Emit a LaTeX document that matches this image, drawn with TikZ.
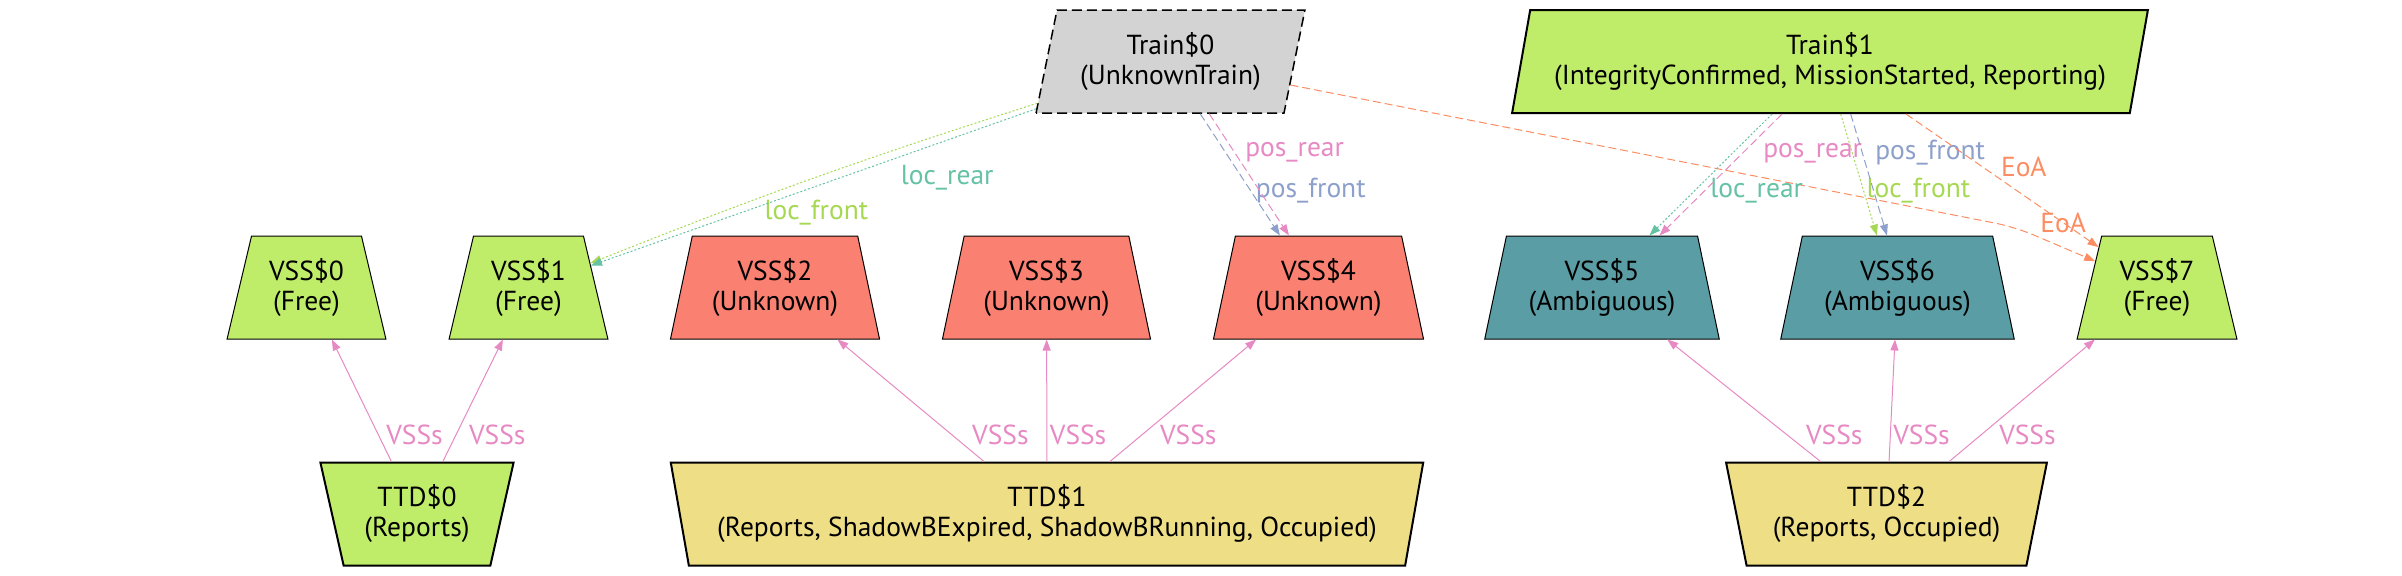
\documentclass[tikz,border=0pt]{standalone}
\usepackage{fontspec}
\setmainfont{PT Sans}
\usetikzlibrary{shapes.geometric,arrows.meta}
\definecolor{freegreen}{HTML}{BFED6A}
\definecolor{unknownred}{HTML}{FA8072}
\definecolor{ambigteal}{HTML}{5A9DA5}
\definecolor{occupiedgold}{HTML}{EEDE86}
\definecolor{traingray}{HTML}{D3D3D3}
\definecolor{setteal}{HTML}{66C2A5}
\definecolor{setorange}{HTML}{FC8D62}
\definecolor{setblue}{HTML}{8DA0CB}
\definecolor{setpink}{HTML}{E78AC3}
\definecolor{setgreen}{HTML}{A6D854}

\begin{document}
\begin{tikzpicture}[x=0.4pt, y=-0.4pt, font=\fontsize{11}{12}\selectfont,
    box/.style={draw, align=center, inner sep=0pt, minimum height=41.2pt,
      trapezium, trapezium stretches=true},
    vss/.style={box, line width=0.4pt, trapezium left angle=74, trapezium right angle=74},
    ttd/.style={box, line width=0.8pt, trapezium left angle=106, trapezium right angle=106},
    train/.style={box, line width=0.8pt, trapezium left angle=74, trapezium right angle=106},
    conn/.style={line width=0.4pt, -{Triangle[length=4.4pt,width=3.2pt]}},
    dashedlink/.style={conn, dash pattern=on 3.2pt off 1.6pt},
    dottedlink/.style={conn, dash pattern=on 0.8pt off 0.8pt},
    lbl/.style={inner sep=2pt}]
  \useasboundingbox (0,0) rectangle (2402,575);

  % trains
  \node[train, fill=traingray, line width=0.6pt, dash pattern=on 4pt off 2pt,
    minimum width=108.4pt] (train0) at (1170.5,61.5) {Train\$0\\(UnknownTrain)};
  \node[train, fill=freegreen, minimum width=255.2pt] (train1) at (1830,61.5)
    {Train\$1\\(IntegrityConfirmed, MissionStarted, Reporting)};

  % VSS row
  \node[vss, fill=freegreen, minimum width=63.6pt] (vss0) at (306.5,287.5) {VSS\$0\\(Free)};
  \node[vss, fill=freegreen, minimum width=63.6pt] (vss1) at (528.5,287.5) {VSS\$1\\(Free)};
  \node[vss, fill=unknownred, minimum width=84pt] (vss2) at (775,287.5) {VSS\$2\\(Unknown)};
  \node[vss, fill=unknownred, minimum width=83.6pt] (vss3) at (1046.5,287.5) {VSS\$3\\(Unknown)};
  \node[vss, fill=unknownred, minimum width=84.4pt] (vss4) at (1318.5,287.5) {VSS\$4\\(Unknown)};
  \node[vss, fill=ambigteal, minimum width=94.4pt] (vss5) at (1602,287.5) {VSS\$5\\(Ambiguous)};
  \node[vss, fill=ambigteal, minimum width=94pt] (vss6) at (1897.5,287.5) {VSS\$6\\(Ambiguous)};
  \node[vss, fill=freegreen, minimum width=64pt] (vss7) at (2157,287.5) {VSS\$7\\(Free)};

  % TTD row
  \node[ttd, fill=freegreen, minimum width=77.6pt] (ttd0) at (417,514) {TTD\$0\\(Reports)};
  \node[ttd, fill=occupiedgold, minimum width=301.6pt] (ttd1) at (1047,514)
    {TTD\$1\\(Reports, ShadowBExpired, ShadowBRunning, Occupied)};
  \node[ttd, fill=occupiedgold, minimum width=128.4pt] (ttd2) at (1886.5,514)
    {TTD\$2\\(Reports, Occupied)};

  % TTD -> VSS
  \foreach \t/\v/\dx in {ttd0/vss0/1pt, ttd0/vss1/3pt, ttd1/vss2/6pt, ttd1/vss3/-1pt,
                         ttd1/vss4/5pt, ttd2/vss5/5.5pt, ttd2/vss6/-1pt, ttd2/vss7/5pt}
    \draw[conn, setpink] (\t) -- node[lbl, right, pos=0.22, xshift=\dx] {VSSs} (\v);

  % Train$0
  \draw[dottedlink, setgreen] (train0) to[bend right=2]
    node[lbl, below, pos=0.49, yshift=-7pt] {loc\_front} (vss1);
  \draw[dottedlink, setteal] (train0) --
    node[lbl, below, pos=0.2, yshift=-8pt] {loc\_rear} (vss1);
  \draw[dashedlink, setblue, transform canvas={xshift=-1.8pt}] (train0) --
    node[lbl, right, pos=0.63] {pos\_front} (vss4);
  \draw[dashedlink, setpink, transform canvas={xshift=1.8pt}] (train0) --
    node[lbl, right, pos=0.32, xshift=2pt] {pos\_rear} (vss4);
  \coordinate (eoabend) at (2015,227);
  \draw[dashedlink, setorange, rounded corners=8pt] (train0) -- (eoabend) --
    node[lbl, above, pos=0.6, yshift=3.5pt] {EoA} (vss7);

  % Train$1
  \draw[dottedlink, setteal, transform canvas={xshift=-2pt}] (train1) --
    node[lbl, right, pos=0.63, xshift=4pt] {loc\_rear} (vss5);
  \draw[dashedlink, setpink, transform canvas={xshift=2pt}] (train1) --
    node[lbl, right, pos=0.32, xshift=6pt] {pos\_rear} (vss5);
  \draw[dottedlink, setgreen, transform canvas={xshift=-2pt}] (train1) --
    node[lbl, right, pos=0.63, xshift=-1pt] {loc\_front} (vss6);
  \draw[dashedlink, setblue, transform canvas={xshift=2pt}] (train1) --
    node[lbl, right, pos=0.32, xshift=3pt] {pos\_front} (vss6);
  \draw[dashedlink, setorange] (train1) --
    node[lbl, right, pos=0.4, xshift=5pt] {EoA} (vss7);
\end{tikzpicture}
\end{document}
